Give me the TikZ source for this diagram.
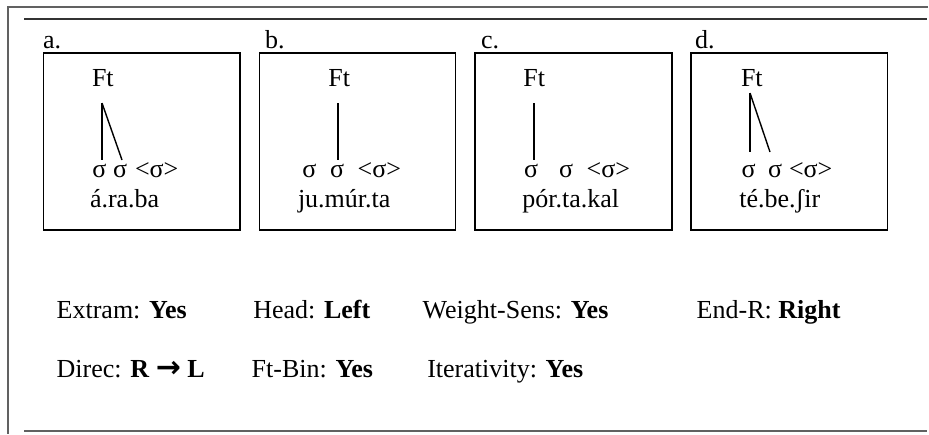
\documentclass[tikz,border=0pt]{standalone}
\usepackage{fontspec}
\setmainfont{Liberation Serif}
\newfontfamily\arrowfont{DejaVu Sans}
\begin{document}
\begin{tikzpicture}[x=1pt,y=-1pt,
  every node/.style={inner sep=0pt, outer sep=0pt, anchor=base west,
    font=\fontsize{26}{30}\selectfont},
  framebox/.style={draw=black, line width=1.7pt},
  branch/.style={draw=black, line width=1.4pt},
  outerrule/.style={draw=black!62, line width=2pt},
  innerrule/.style={draw=black!80, line width=2pt}]
\useasboundingbox (0,0) rectangle (929,434);

% page frame and rules
\draw[outerrule] (928,6.5) -- (8,6.5) -- (8,434);
\draw[innerrule] (24,18.5) -- (927,18.5);
\draw[outerrule] (24,431) -- (927,431);

% panel labels and boxes
\node (la) at (43,48) {a.};
\node (lb) at (265,48) {b.};
\node (lc) at (481,48) {c.};
\node (ld) at (695,48) {d.};
\draw[framebox] (43.5,53) rectangle (240,230);
\draw[framebox] (259.5,53) rectangle (455.5,230);
\draw[framebox] (475,53) rectangle (672,230);
\draw[framebox] (691,53) rectangle (887.5,230);

% a. á.ra.ba
\node (a-ft) at (92,86) {Ft};
\node (a-s1) at (92.3,177) {σ};
\node (a-s2) at (113,177) {σ};
\node (a-s3) at (135,177) {<σ>};
\node (a-w) at (90,207) {á.ra.ba};
\coordinate (a-root) at (102,103);
\draw[branch] (a-root) -- (102,160);
\draw[branch] (a-root) -- (122,160);

% b. ju.múr.ta
\node (b-ft) at (328.3,86) {Ft};
\node (b-s1) at (302.3,177) {σ};
\node (b-s2) at (330,177) {σ};
\node (b-s3) at (357.7,177) {<σ>};
\node (b-w) at (298,207) {ju.múr.ta};
\coordinate (b-root) at (338,103);
\draw[branch] (b-root) -- (338,160);

% c. pór.ta.kal
\node (c-ft) at (523.3,86) {Ft};
\node (c-s1) at (524,177) {σ};
\node (c-s2) at (559,177) {σ};
\node (c-s3) at (586.7,177) {<σ>};
\node (c-w) at (522.3,207) {pór.ta.kal};
\coordinate (c-root) at (534,103);
\draw[branch] (c-root) -- (534,160);

% d. té.be.ʃir
\node (d-ft) at (741,86) {Ft};
\node (d-s1) at (741.7,177) {σ};
\node (d-s2) at (768,177) {σ};
\node (d-s3) at (789,177) {<σ>};
\node (d-w) at (739.3,207) {té.be.ʃir};
\coordinate (d-root) at (750,93);
\draw[branch] (d-root) -- (750,152);
\draw[branch] (d-root) -- (770,152);

% parameter settings
\node (p1) at (56.7,318) {Extram: \textbf{Yes}};
\node (p2) at (253.3,318) {Head: \textbf{Left}};
\node (p3) at (422.7,318) {Weight-Sens: \textbf{Yes}};
\node (p4) at (696.7,318) {End-R: \textbf{Right}};
\node (p5) at (56.7,377) {Direc: \textbf{R} {\arrowfont\bfseries\fontsize{30}{34}\selectfont →} \textbf{L}};
\node (p6) at (251.7,377) {Ft-Bin: \textbf{Yes}};
\node (p7) at (427.3,377) {Iterativity: \textbf{Yes}};
\end{tikzpicture}
\end{document}
